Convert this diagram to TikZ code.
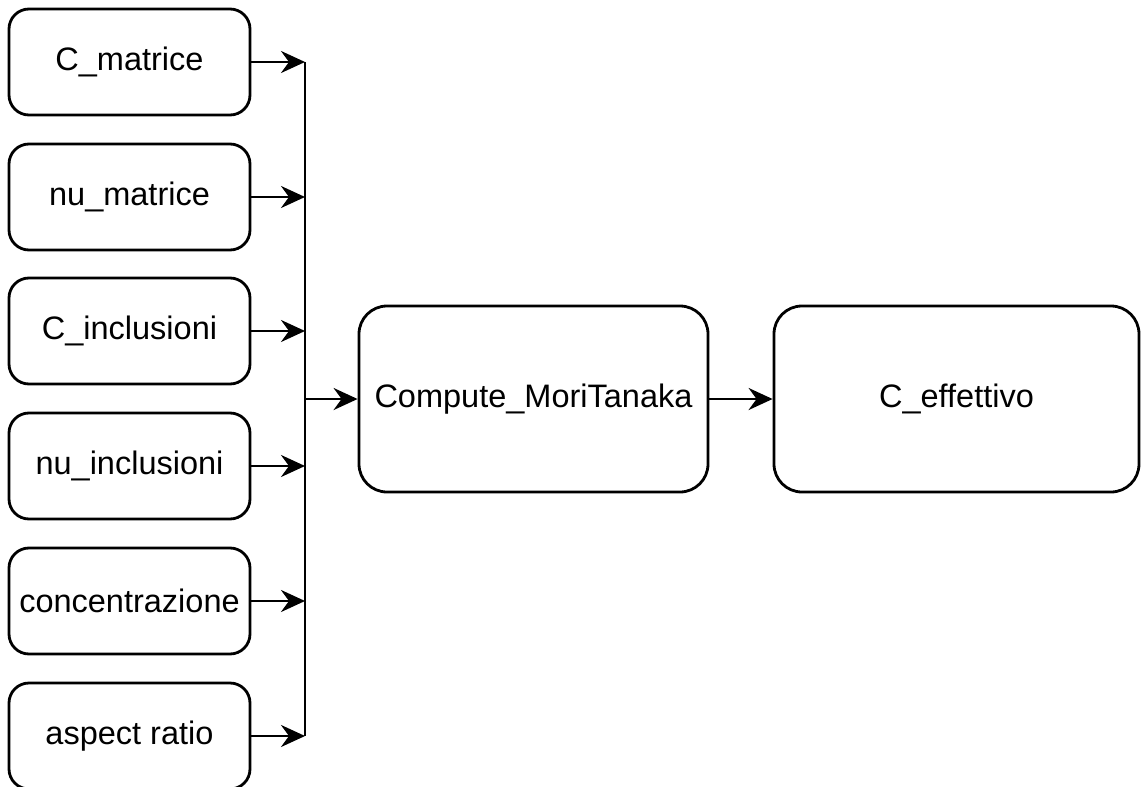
\documentclass[tikz,border=0pt]{standalone}
\usepackage{fontspec}
\setmainfont{Liberation Sans}
\usetikzlibrary{arrows.meta}
\begin{document}
\begin{tikzpicture}[x=1pt,y=-1pt,
  inbox/.style={draw, line width=2.8pt, rounded corners=20pt, minimum width=241pt, minimum height=106pt, inner sep=0pt, font=\fontsize{32.5}{36}\selectfont},
  bigbox/.style={draw, line width=2.8pt, rounded corners=28pt, minimum height=186pt, inner sep=0pt, font=\fontsize{32.5}{36}\selectfont},
  conn/.style={line width=2.8pt, -{Stealth[length=24pt,width=22pt,inset=8pt]}},
  plain/.style={line width=2.8pt}]
\useasboundingbox (0,0) rectangle (1141,787);
\node[inbox] (a1) at (129.5,62) {C\_matrice};
\node[inbox] (a2) at (129.5,197) {nu\_matrice};
\node[inbox] (a3) at (129.5,331) {C\_inclusioni};
\node[inbox] (a4) at (129.5,466) {nu\_inclusioni};
\node[inbox] (a5) at (129.5,601) {concentrazione};
\node[inbox] (a6) at (129.5,736) {aspect ratio};
\node[bigbox, minimum width=349pt] (mt) at (533.5,399) {Compute\_MoriTanaka};
\node[bigbox, minimum width=365pt] (ce) at (956.5,399) {C\_effettivo};
\coordinate (top) at (305,62);
\coordinate (bot) at (305,736);
\coordinate (mid) at (305,399);
\draw[plain] (top) -- (bot);
\foreach \i in {1,...,6} {
  \draw[conn] (a\i.east) -- (a\i.east -| top);
}
\draw[conn] (mid) -- (mt.west);
\draw[conn] (mt.east) -- (ce.west);
\end{tikzpicture}
\end{document}
